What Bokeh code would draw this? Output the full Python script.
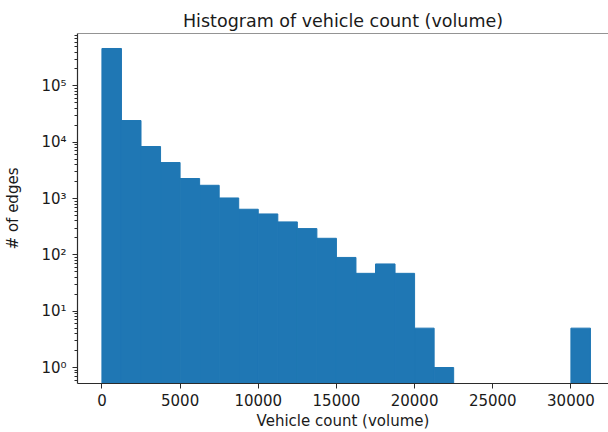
from bokeh.plotting import figure
from bokeh.models import (LogTicker, FixedTicker, CustomJSTickFormatter,
                          Span, ColumnDataSource)
from bokeh.embed import file_html
from bokeh.resources import INLINE
import numpy as np

# Histogram of per-edge vehicle counts, 25 equal-width bins
volume_min = 0
volume_max = 31250
n_bins = 25
edge_counts = [462000, 24300, 8400, 4360, 2270, 1720, 1025, 646, 533, 385,
               293, 197, 90, 47, 69, 47, 5, 1, 0, 0, 0, 0, 0, 0, 5]
x_ticks = [0, 5000, 10000, 15000, 20000, 25000, 30000]

bin_edges = np.linspace(volume_min, volume_max, n_bins + 1)
counts = np.array(edge_counts, dtype=float)
nonzero = counts > 0

Y_LOW, Y_HIGH = 0.52, 8.53e5
src = ColumnDataSource(dict(
    left=bin_edges[:-1][nonzero],
    right=bin_edges[1:][nonzero],
    top=counts[nonzero],
    bottom=np.full(int(nonzero.sum()), Y_LOW / 10),
))

FONT = "DejaVu Sans"
TEXT = "#1a1a1a"
SPINE = "#2b2b2b"
BAR = "#1f77b4"

p = figure(width=608, height=432, y_axis_type="log",
           x_range=(-1562.5, 32404), y_range=(Y_LOW, Y_HIGH),
           output_backend="svg", toolbar_location=None,
           min_border_left=77, min_border_right=0,
           min_border_top=33, min_border_bottom=49,
           title="Histogram of vehicle count (volume)")

# bars share their edges; a same-colour outline hides the seams between them
p.quad(left="left", right="right", top="top", bottom="bottom", source=src,
       fill_color=BAR, line_color=BAR, line_width=1)

p.title.text_font = FONT
p.title.text_font_size = "17.5px"
p.title.text_font_style = "normal"
p.title.text_color = TEXT
p.title.align = "center"
p.title.offset = 3
p.title.standoff = 5

p.grid.visible = False
p.outline_line_color = None
p.background_fill_color = "white"
p.border_fill_color = "white"

# top spine (the right one falls outside the canvas)
p.add_layout(Span(location=Y_HIGH, dimension="width",
                  line_color=SPINE, line_width=1.2))

xa = p.xaxis[0]
xa.ticker = FixedTicker(ticks=x_ticks)
xa.axis_label = "Vehicle count (volume)"
ya = p.yaxis[0]
ya.ticker = LogTicker(num_minor_ticks=10)
ya.axis_label = "# of edges"
ya.formatter = CustomJSTickFormatter(code="""
    const sup = {"-": "\u207b", "0": "\u2070", "1": "\u00b9", "2": "\u00b2",
                 "3": "\u00b3", "4": "\u2074", "5": "\u2075", "6": "\u2076",
                 "7": "\u2077", "8": "\u2078", "9": "\u2079"};
    const e = Math.round(Math.log10(tick));
    return "10" + String(e).split("").map(c => sup[c]).join("");
""")

for ax in (xa, ya):
    ax.axis_line_color = SPINE
    ax.axis_line_width = 1.2
    ax.major_tick_line_color = SPINE
    ax.major_tick_out = 5
    ax.major_tick_in = 0
    ax.minor_tick_in = 0
    ax.major_label_text_font = FONT
    ax.major_label_text_font_size = "15px"
    ax.major_label_text_color = TEXT
    ax.axis_label_text_font = FONT
    ax.axis_label_text_font_size = "15px"
    ax.axis_label_text_font_style = "normal"
    ax.axis_label_text_color = TEXT

xa.minor_tick_line_color = None
xa.major_label_standoff = 5
xa.axis_label_standoff = 3
ya.minor_tick_line_color = SPINE
ya.minor_tick_out = 3
ya.major_label_standoff = 6
ya.axis_label_standoff = 16

open("out.html", "w").write(file_html(p, INLINE))
